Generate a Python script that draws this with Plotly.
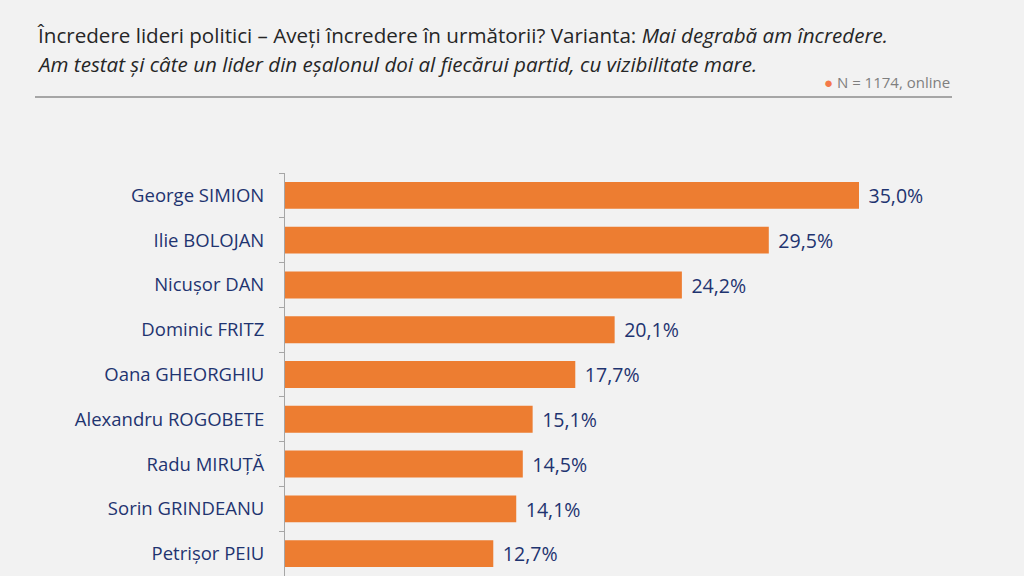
import plotly.graph_objects as go

names = ["George SIMION", "Ilie BOLOJAN", "Nicușor DAN", "Dominic FRITZ", "Oana GHEORGHIU",
         "Alexandru ROGOBETE", "Radu MIRUȚĂ", "Sorin GRINDEANU", "Petrișor PEIU"]
values = [35.0, 29.5, 24.2, 20.1, 17.7, 15.1, 14.5, 14.1, 12.7]

NAVY = "#1F3470"
ORANGE = "#ED7D31"
BG = "#F2F2F2"
FONT = "Open Sans"

fig = go.Figure(go.Bar(
    x=values, y=names, orientation="h",
    marker=dict(color=ORANGE, line=dict(width=0)),
    texttemplate="\u2009\u2009%{x:.1f}%", textposition="outside",
    textfont=dict(family=FONT, size=20.4, color=NAVY),
    cliponaxis=False, hoverinfo="skip",
))

fig.update_layout(
    width=1024, height=576,
    margin=dict(l=285, r=1, t=173, b=0),
    paper_bgcolor=BG, plot_bgcolor=BG,
    separators=",.",
    bargap=0.4,
    showlegend=False,
    xaxis=dict(range=[0, 45], visible=False, fixedrange=True),
    yaxis=dict(autorange="reversed", showline=True, linecolor="#A6A6A6", linewidth=1,
               ticks="outside", tickson="boundaries", ticklen=5, tickcolor="#A6A6A6",
               ticklabelstandoff=16, tickfont=dict(family=FONT, size=18.5, color=NAVY),
               showgrid=False, zeroline=False),
)

fig.add_annotation(xref="paper", yref="paper", x=-(285 - 35) / 738, y=1 + (173 - 35) / 403,
                   xanchor="left", yanchor="middle", align="left", showarrow=False,
                   text="Încredere lideri politici – Aveți încredere în următorii? Varianta: <i>Mai degrabă am încredere.</i>",
                   font=dict(family=FONT, size=20.6, color="#262626"))
fig.add_annotation(xref="paper", yref="paper", x=-(285 - 35) / 738, y=1 + (173 - 64) / 403,
                   xanchor="left", yanchor="middle", align="left", showarrow=False,
                   text="<i>Am testat și câte un lider din eșalonul doi al fiecărui partid, cu vizibilitate mare.</i>",
                   font=dict(family=FONT, size=20.6, color="#262626"))
fig.add_annotation(xref="paper", yref="paper", x=(952 - 285) / 738, y=1 + (173 - 82) / 403,
                   xanchor="right", yanchor="middle", showarrow=False,
                   text="<span style='color:#F4794A'>●</span> N = 1174, online",
                   font=dict(family=FONT, size=15, color="#7F7F7F"))
fig.add_shape(type="line", xref="paper", yref="paper",
              x0=-(285 - 35) / 738, x1=(952 - 285) / 738,
              y0=1 + (173 - 97) / 403, y1=1 + (173 - 97) / 403,
              line=dict(color="#A6A6A6", width=2))

fig.write_html("out.html")
